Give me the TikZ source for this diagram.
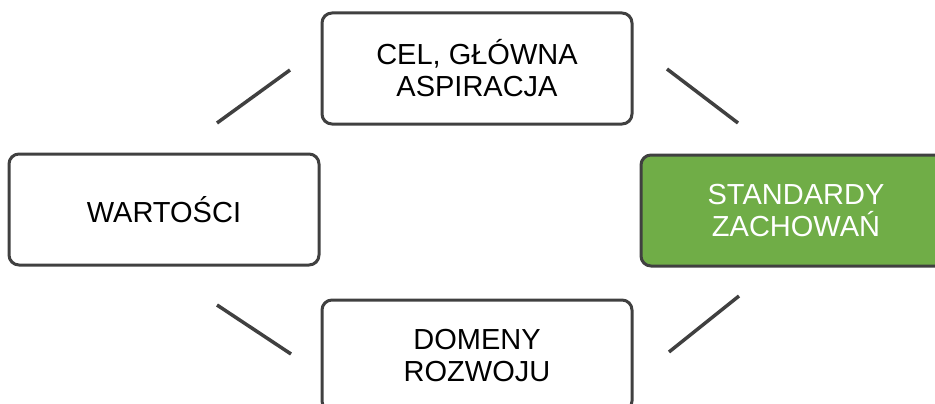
\documentclass[tikz,border=0pt]{standalone}
\usepackage{fontspec}
\setmainfont{Liberation Sans}
\usepackage{tikz}
\usetikzlibrary{positioning}
\definecolor{edgegray}{HTML}{404040}
\definecolor{stdgreen}{HTML}{70AD47}

\begin{document}
\begin{tikzpicture}[x=1pt, y=-1pt, node distance = 0pt and 0pt,
    box/.style={draw=edgegray, line width=3pt, rounded corners=10pt, rectangle, minimum height=111pt, minimum width=310pt, align=center, font=\fontsize{29}{32}\selectfont, text=black},
    link/.style={draw=edgegray, line width=3.5pt}]
        \clip (0,0) rectangle (935,404);
        \useasboundingbox (0,0) rectangle (935,404);
        % Nodes
        \node[box] (cel) at (477,68.5) {CEL, GŁÓWNA\\ASPIRACJA};
        \node[box, below left=27pt and 0pt of cel] (wart) {WARTOŚCI};
        \node[box, fill=stdgreen, text=white, below right=28pt and 6pt of cel] (std) {STANDARDY\\ZACHOWAŃ};
        \node[box, below=173pt of cel] (dom) {DOMENY\\ROZWOJU};

        % Line ends
        \coordinate (wc1) at (217,123);
        \coordinate (wc2) at (290,70);
        \coordinate (cs1) at (667,69);
        \coordinate (cs2) at (738,123);
        \coordinate (wd1) at (217,305);
        \coordinate (wd2) at (291,354);
        \coordinate (ds1) at (669,352);
        \coordinate (ds2) at (739,296);

        % Links
        \draw[link] (wc1) -- (wc2);
        \draw[link] (cs1) -- (cs2);
        \draw[link] (wd1) -- (wd2);
        \draw[link] (ds1) -- (ds2);
\end{tikzpicture}
\end{document}
